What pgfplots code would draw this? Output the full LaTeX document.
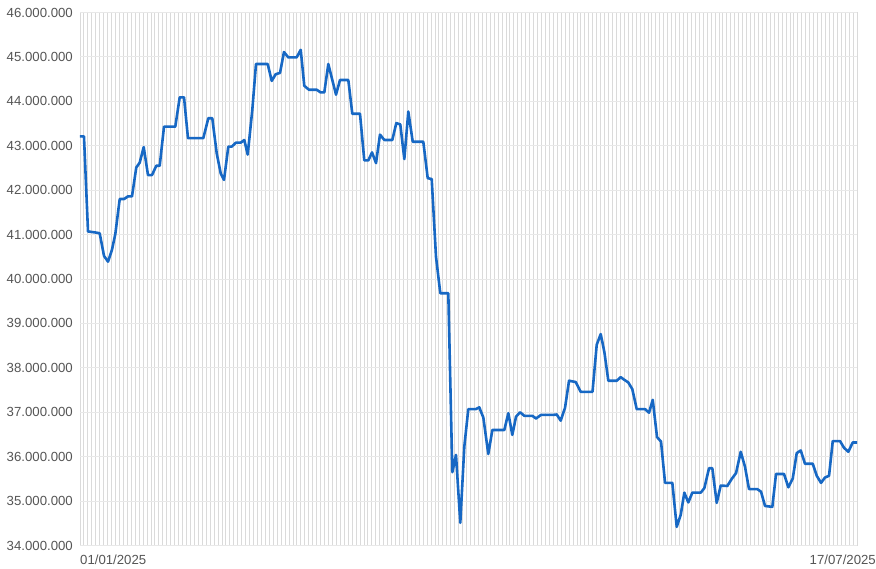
\documentclass[border=0pt]{standalone}
\usepackage{fontspec}
\setmainfont{Liberation Sans}
\usepackage{pgfplots}
\pgfplotsset{compat=1.18}
\definecolor{lineblue}{HTML}{1768C4}
\definecolor{labgray}{HTML}{555555}
\definecolor{vgrid}{HTML}{DADADA}
\definecolor{hgrid}{HTML}{E8E8E8}
\begin{document}
\begin{tikzpicture}
\fontsize{13.2bp}{16bp}\selectfont
\begin{axis}[
  scale only axis,
  width=777bp, height=533bp,
  xmin=0, xmax=197,
  ymin=34000000, ymax=46000000,
  ytick={34000000,35000000,...,46000000},
  xtick={0,1,...,197},
  xticklabels={},
  xmajorgrids, ymajorgrids,
  x grid style={vgrid, line width=0.9bp},
  y grid style={hgrid, line width=0.9bp},
  axis line style={draw=none},
  tick style={draw=none},
  major tick length=0pt, minor tick length=0pt,
  scaled y ticks=false,
  /pgf/number format/.cd, fixed, precision=0, 1000 sep={.}, assume math mode=true,
  /pgfplots/.cd,
  yticklabel style={anchor=east, inner sep=0pt, xshift=-7bp, text=labgray, font=\fontsize{13.2bp}{16bp}\selectfont},
  clip=false,
]
\addplot[lineblue, line width=2.6bp, line join=round] coordinates {
(0,43210000) (1.01,43210000) (2.03,41070000) (3.73,41050000) (4.99,41030000)
(6.09,40520000) (7.10,40390000) (8.11,40660000) (8.95,41010000) (10.07,41800000)
(11.16,41800000) (12.17,41860000) (13.18,41860000) (14.27,42510000) (15.14,42620000)
(16.15,42970000) (17.24,42340000) (18.26,42340000) (19.35,42550000) (20.21,42550000)
(21.30,43430000) (24.16,43430000) (25.28,44090000) (26.37,44090000) (27.38,43170000)
(31.26,43170000) (32.53,43620000) (33.54,43620000) (34.66,42830000) (35.67,42380000)
(36.51,42230000) (37.60,42980000) (38.46,42980000) (39.55,43070000) (40.75,43070000)
(41.66,43130000) (42.52,42800000) (43.69,43810000) (44.62,44840000) (47.59,44840000)
(48.61,44460000) (49.62,44610000) (50.71,44640000) (51.72,45110000) (52.81,44990000)
(54.94,44990000) (55.96,45160000) (56.87,44350000) (58.06,44260000) (60.02,44260000)
(61.03,44200000) (61.94,44200000) (62.96,44840000) (64.91,44150000) (65.92,44480000)
(68.03,44480000) (69.04,43720000) (70.99,43720000) (72.08,42670000) (73.10,42670000)
(74.04,42850000) (75.05,42610000) (76.06,43250000) (77.16,43130000) (79.18,43130000)
(80.20,43510000) (81.21,43480000) (82.23,42700000) (83.24,43770000) (84.36,43090000)
(87.04,43090000) (88.16,42270000) (89.17,42250000) (90.26,40500000) (91.35,39680000)
(93.38,39680000) (94.40,35650000) (95.33,36040000) (96.42,34510000) (97.44,36230000)
(98.45,37070000) (100.33,37070000) (101.24,37110000) (102.26,36880000) (103.52,36060000)
(104.54,36600000) (107.58,36600000) (108.60,36980000) (109.61,36490000) (110.55,36900000)
(111.56,37000000) (112.65,36920000) (114.68,36920000) (115.62,36860000) (116.89,36940000)
(120.00,36940000) (120.87,36950000) (121.88,36810000) (122.97,37100000) (123.99,37710000)
(125.68,37680000) (126.95,37460000) (129.94,37460000) (131.01,38520000) (132.02,38760000)
(132.94,38360000) (133.95,37710000) (136.08,37710000) (137.09,37790000) (138.01,37730000)
(139.02,37670000) (140.03,37520000) (141.15,37070000) (143.26,37070000) (144.27,36990000)
(145.21,37280000) (146.30,36440000) (147.31,36340000) (148.33,35410000) (150.18,35410000)
(151.29,34420000) (152.31,34690000) (153.22,35190000) (154.23,34970000) (155.25,35190000)
(157.38,35190000) (158.29,35290000) (159.48,35740000) (160.32,35740000) (161.43,34960000)
(162.45,35350000) (164.12,35340000) (165.24,35500000) (166.33,35630000) (167.52,36110000)
(168.61,35770000) (169.62,35270000) (171.73,35270000) (172.67,35210000) (173.68,34890000)
(175.53,34870000) (176.47,35610000) (178.50,35610000) (179.59,35310000) (180.71,35510000)
(181.72,36080000) (182.73,36140000) (183.82,35840000) (185.78,35840000) (186.79,35570000)
(187.88,35410000) (188.89,35530000) (189.91,35570000) (190.85,36350000) (192.70,36350000)
(193.71,36200000) (194.80,36110000) (195.92,36320000) (197,36320000)
};
\coordinate (bl) at (rel axis cs:0,0);
\coordinate (br) at (rel axis cs:1,0);
\end{axis}
\node[anchor=north west, inner sep=0pt, text=labgray] at ([yshift=-9bp]bl) {01/01/2025};
\node[anchor=north east, inner sep=0pt, text=labgray] at ([xshift=19bp,yshift=-9bp]br) {17/07/2025};
\path (bl) ++(-80bp,-23.5bp) rectangle ++(876bp,569bp);
\end{tikzpicture}
\end{document}
